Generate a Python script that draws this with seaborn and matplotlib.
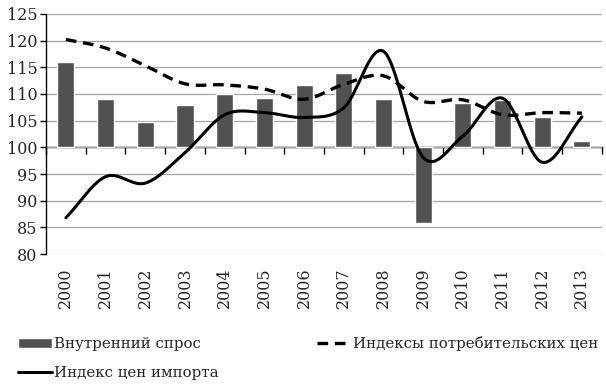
import matplotlib
matplotlib.use("Agg")
import matplotlib.pyplot as plt
import numpy as np
import pandas as pd
import seaborn as sns

years = [str(y) for y in range(2000, 2014)]
demand = [115.9, 109.1, 104.7, 107.9, 110.0, 109.2, 111.6, 113.9, 109.1, 85.8, 108.3, 108.8, 105.6, 101.2]
cpi = [120.2, 118.6, 115.3, 111.9, 111.7, 110.9, 109.0, 111.8, 113.4, 108.6, 108.9, 106.1, 106.5, 106.4]
import_prices = [86.8, 94.5, 93.3, 99.0, 106.1, 106.5, 105.6, 107.4, 118.0, 98.1, 102.1, 109.2, 97.2, 105.7]

BASE = 100
BAR_COLOR = "#515151"


def smooth(values, steps=20):
    """Catmull-Rom curve through the points, like Excel's smoothed line."""
    p = np.asarray(values, dtype=float)
    x = np.arange(len(p), dtype=float)
    pts = np.column_stack([x, p])
    pts = np.vstack([2 * pts[0] - pts[1], pts, 2 * pts[-1] - pts[-2]])
    out = []
    t = np.linspace(0, 1, steps, endpoint=False)[:, None]
    for i in range(1, len(pts) - 2):
        p0, p1, p2, p3 = pts[i - 1], pts[i], pts[i + 1], pts[i + 2]
        seg = 0.5 * ((2 * p1) + (-p0 + p2) * t + (2 * p0 - 5 * p1 + 4 * p2 - p3) * t ** 2
                     + (-p0 + 3 * p1 - 3 * p2 + p3) * t ** 3)
        out.append(seg)
    out.append(pts[-2][None, :])
    out = np.vstack(out)
    return out[:, 0], out[:, 1]


sns.set_style("white")
plt.rcParams["font.family"] = ["DejaVu Serif"]
plt.rcParams["font.size"] = 11.5

fig = plt.figure(figsize=(6.06, 3.85), dpi=100)
ax = fig.add_axes([0.076, 0.34, 0.917, 0.624])

df = pd.DataFrame({"year": years, "delta": np.array(demand) - BASE})
sns.barplot(data=df, x="year", y="delta", bottom=BASE, color=BAR_COLOR,
            width=0.43, saturation=1, ax=ax, zorder=2, label="Внутренний спрос")

cx, cy = smooth(cpi)
ix, iy = smooth(import_prices)
sns.lineplot(x=cx, y=cy, ax=ax, color="black", lw=2.4, dashes=False, zorder=3,
             label="Индексы потребительских цен", sort=False)
ax.lines[-1].set_dashes([3.2, 2.0])
sns.lineplot(x=ix, y=iy, ax=ax, color="black", lw=2.2, zorder=4,
             label="Индекс цен импорта", sort=False)

ax.set_xlim(-0.5, len(years) - 0.5)
ax.set_ylim(80, 125)
ax.set_yticks(range(80, 126, 5))
ax.yaxis.grid(True, color="#a6a6a6", lw=0.9)
ax.set_axisbelow(True)
ax.set_xlabel("")
ax.set_ylabel("")

for side in ["top", "right", "bottom"]:
    ax.spines[side].set_visible(False)
ax.spines["left"].set_color("black")
ax.spines["left"].set_linewidth(1.0)
ax.tick_params(axis="y", left=True, length=4, width=1, color="black", pad=2)
ax.tick_params(axis="x", bottom=False, rotation=90, pad=6)

# horizontal axis line at the 100 baseline with ticks between categories
sec = ax.secondary_xaxis((BASE - 80) / 45)
sec.spines["bottom"].set_color("black")
sec.spines["bottom"].set_linewidth(1.0)
sec.set_xticks(np.arange(-0.5, len(years), 1.0))
sec.set_xticklabels([])
sec.tick_params(axis="x", length=5, width=1, color="black", direction="out")

handles, labels = ax.get_legend_handles_labels()
ax.get_legend().remove()
order = [labels.index("Внутренний спрос"), labels.index("Индекс цен импорта"),
         labels.index("Индексы потребительских цен")]
fig.legend([handles[i] for i in order], [labels[i] for i in order],
           loc="lower left", bbox_to_anchor=(18 / 606, 0.012), ncol=2, frameon=False,
           fontsize=10.8, handlelength=2.27, handletextpad=0.1, columnspacing=6.6,
           labelspacing=1.0, borderpad=0, borderaxespad=0)

fig.savefig("out.png", dpi=100)
